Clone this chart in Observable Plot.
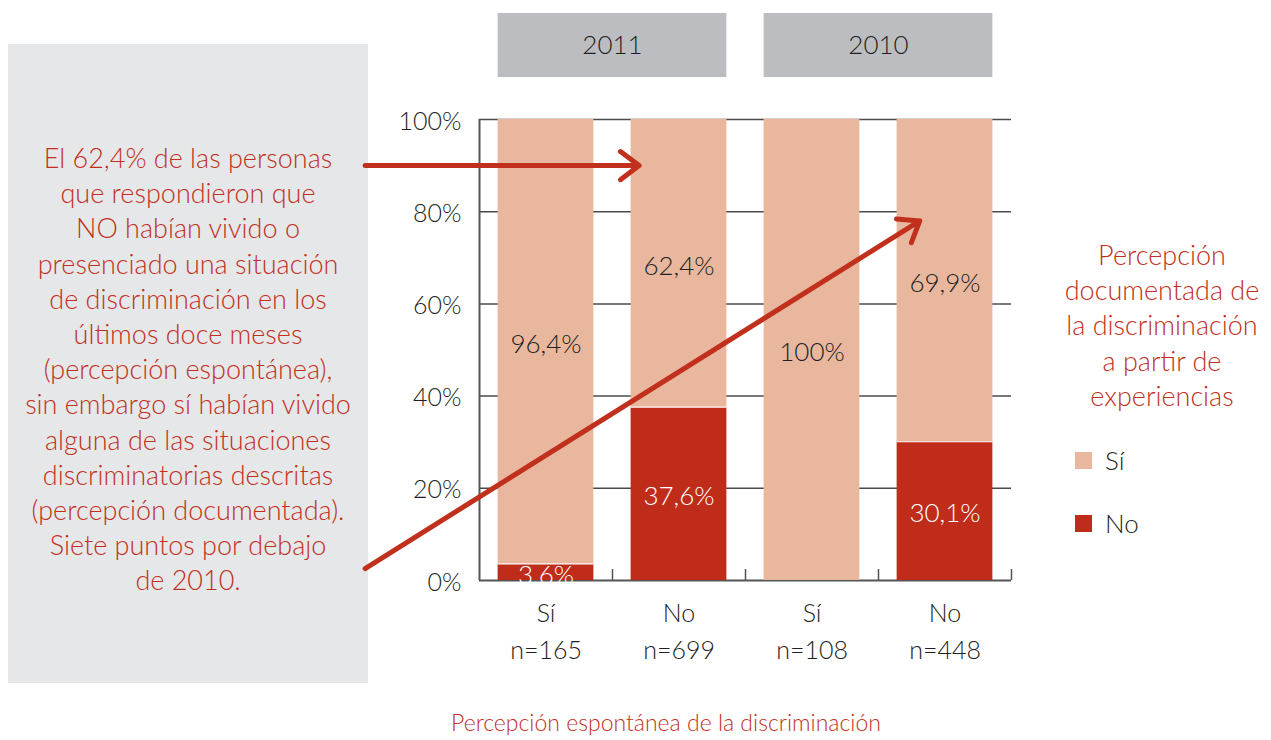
<!DOCTYPE html>
<html>
<head>
<meta charset="utf-8">
<script src="https://cdn.jsdelivr.net/npm/d3@7"></script>
<script src="https://cdn.jsdelivr.net/npm/@observablehq/plot@0.6"></script>
<style>
  html, body { margin: 0; padding: 0; background: #fff; }
  body { font-family: Lato, "Open Sans", sans-serif; font-weight: 300; }
  #wrap { position: relative; width: 1271px; height: 740px; overflow: hidden; }
  #note { position: absolute; left: 8px; top: 44px; width: 360px; height: 639px; background: #E6E7E8; z-index: 0; }
  #noteText { position: absolute; left: 0; top: 96px; width: 360px; text-align: center; color: #C1301C; font-size: 27px; line-height: 35.2px; }
  #chart { position: absolute; left: 0; top: 0; z-index: 1; }
  #legTitle { position: absolute; left: 1042px; top: 237px; width: 240px; text-align: center; color: #C1301C; font-size: 27px; line-height: 35.2px; z-index: 2; }
  .legItem { position: absolute; left: 1075px; z-index: 2; font-size: 26px; color: #231F20; display: flex; align-items: center; }
  .legItem span.sw { display: inline-block; width: 17px; height: 17px; margin-right: 13px; }
  #xTitle { position: absolute; left: 366px; width: 600px; top: 708px; text-align: center; color: #C1301C; font-size: 23px; z-index: 2; }
</style>
</head>
<body>
<div id="wrap">
  <div id="note"><div id="noteText"></div></div>
  <div id="chart"></div>
  <div id="legTitle"></div>
  <div id="legend"></div>
  <div id="xTitle"></div>
</div>
<script>
// ---- data ----
const years = ["2011", "2011", "2010", "2010"];
const spontaneous = ["Sí", "No", "Sí", "No"];
const sampleSizes = [165, 699, 108, 448];
const documentedNo = [3.6, 37.6, 0, 30.1];
const documentedSi = [96.4, 62.4, 100, 69.9];
const yTicks = [0, 20, 40, 60, 80, 100];
const seriesNames = ["Sí", "No"];
const seriesColors = ["#E8B79E", "#BF2C1A"];
const noteLines = [
  "El 62,4% de las personas",
  "que respondieron que",
  "NO habían vivido o",
  "presenciado una situación",
  "de discriminación en los",
  "últimos doce meses",
  "(percepción espontánea),",
  "sin embargo sí habían vivido",
  "alguna de las situaciones",
  "discriminatorias descritas",
  "(percepción documentada).",
  "Siete puntos por debajo",
  "de 2010."
];
const legendTitleLines = ["Percepción", "documentada de", "la discriminación", "a partir de", "experiencias"];
const xTitle = "Percepción espontánea de la discriminación";
// annotation arrows, in chart units (x: bar slot index, y: percent)
const arrows = [
  {x1: -0.86, y1: 90, x2: 1.2, y2: 90},
  {x1: -0.86, y1: 2.6, x2: 3.31, y2: 78}
];

// ---- derived tables ----
const pad = 0.14; // bar inset inside its slot
const bars = years.map((year, i) => ({i, year, label: spontaneous[i], n: sampleSizes[i], no: documentedNo[i], si: documentedSi[i]}));
const segments = [];
bars.forEach(b => {
  segments.push({i: b.i, series: "No", y1: 0, y2: b.no, v: b.no});
  segments.push({i: b.i, series: "Sí", y1: b.no, y2: b.no + b.si, v: b.si});
});
const labels = segments.filter(s => s.v > 0);
const fmt = v => (Number.isInteger(v) ? String(v) : v.toFixed(1).replace(".", ",")) + "%";
const groups = Array.from(d3.group(bars, d => d.year), ([year, bs]) => ({year, x1: d3.min(bs, b => b.i) + pad, x2: d3.max(bs, b => b.i) + 1 - pad}));

const red = "#C1301C", ink = "#231F20", axisGray = "#555";

const chart = Plot.plot({
  width: 1271, height: 740,
  marginLeft: 479, marginRight: 260, marginTop: 119, marginBottom: 160,
  style: {background: "transparent", fontFamily: "Lato, 'Open Sans', sans-serif", fontWeight: 300, overflow: "visible"},
  x: {domain: [0, 4], axis: null},
  y: {domain: [0, 100], axis: null},
  color: {domain: seriesNames, range: seriesColors},
  marks: [
    Plot.gridY(yTicks.filter(d => d > 0), {stroke: "#4a4a4a", strokeOpacity: 1, strokeWidth: 1.5}),
    Plot.ruleX([0], {stroke: axisGray, strokeWidth: 2}),
    Plot.ruleY([0], {stroke: axisGray, strokeWidth: 2}),
    Plot.axisX({ticks: [1, 2, 3, 4], tickSize: -11, tickFormat: () => "", stroke: axisGray, strokeWidth: 1.5}),
    Plot.rect(segments, {x1: d => d.i + pad, x2: d => d.i + 1 - pad, y1: "y1", y2: "y2", fill: "series"}),
    Plot.ruleY(segments.filter(s => s.series === "No" && s.v > 0), {x1: d => d.i + pad, x2: d => d.i + 1 - pad, y: "y2", stroke: "white", strokeWidth: 1.2}),
    Plot.axisY({ticks: yTicks, tickFormat: d => d + "%", tickSize: 0, tickPadding: 18, fontSize: 25, color: ink, dy: 2}),
    Plot.text(labels, {x: d => d.i + 0.5, y: d => (d.y1 + d.y2) / 2, text: d => fmt(d.v), fill: d => d.series === "No" ? "white" : ink, fontSize: 26, dy: 3}),
    Plot.text(bars, {x: d => d.i + 0.5, y: 0, text: d => `${d.label}\nn=${d.n}`, lineAnchor: "top", dy: 15, fontSize: 25, lineHeight: 1.48, fill: ink}),
    Plot.rect(groups, {x1: "x1", x2: "x2", y1: 109.1, y2: 123.0, fill: "#BCBDC0"}),
    Plot.text(groups, {x: d => (d.x1 + d.x2) / 2, y: 116, text: "year", fontSize: 26, fill: ink}),
    Plot.arrow(arrows, {x1: "x1", y1: "y1", x2: "x2", y2: "y2", stroke: red, strokeWidth: 5, headLength: 7, headAngle: 74, strokeLinecap: "round", strokeLinejoin: "round"})
  ]
});
document.getElementById("chart").appendChild(chart);

document.getElementById("noteText").innerHTML = noteLines.map(l => `<div>${l}</div>`).join("");
document.getElementById("legTitle").innerHTML = legendTitleLines.map(l => `<div>${l}</div>`).join("");
document.getElementById("xTitle").textContent = xTitle;
const legend = document.getElementById("legend");
seriesNames.forEach((name, k) => {
  const item = document.createElement("div");
  item.className = "legItem";
  item.style.top = (444 + k * 63) + "px";
  item.innerHTML = `<span class="sw" style="background:${seriesColors[k]}"></span><span>${name}</span>`;
  legend.appendChild(item);
});
</script>
</body>
</html>
